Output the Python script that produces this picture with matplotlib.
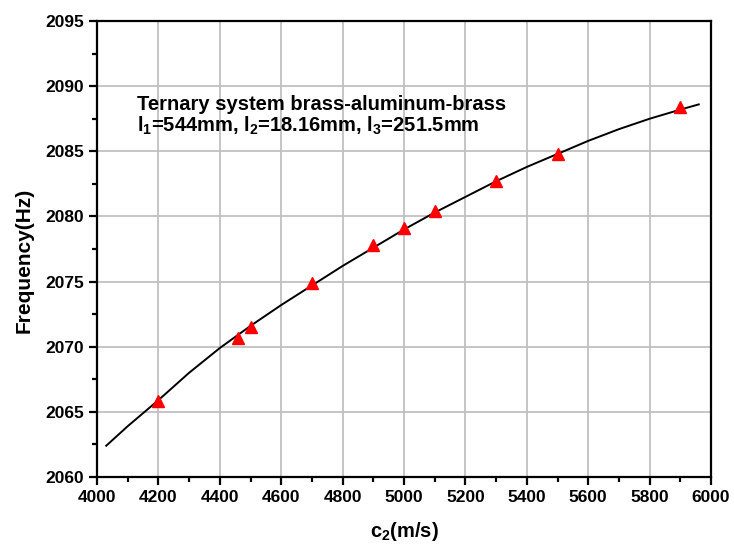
import matplotlib
matplotlib.use('Agg')
import matplotlib.pyplot as plt
from matplotlib.ticker import MultipleLocator

plt.rcParams['font.family'] = ['Liberation Sans', 'DejaVu Sans']
plt.rcParams['mathtext.default'] = 'regular'

# measured points (triangles)
c2_pts = [4200, 4460, 4500, 4700, 4900, 5000, 5100, 5300, 5500, 5900]
freq_pts = [2065.8, 2070.7, 2071.5, 2074.9, 2077.8, 2079.1, 2080.4, 2082.7, 2084.8, 2088.4]

# fitted curve
c2_curve = [4030, 4100, 4200, 4300, 4400, 4500, 4600, 4700, 4800, 4900, 5000,
            5100, 5200, 5300, 5400, 5500, 5600, 5700, 5800, 5900, 5960]
freq_curve = [2062.4, 2063.9, 2065.9, 2068.0, 2069.9, 2071.6, 2073.2, 2074.7,
              2076.2, 2077.6, 2079.0, 2080.3, 2081.5, 2082.7, 2083.8, 2084.8,
              2085.8, 2086.7, 2087.5, 2088.2, 2088.6]

fig = plt.figure(figsize=(7.34, 5.46), dpi=100)
ax = fig.add_axes([0.1322, 0.1264, 0.8365, 0.8351])

ax.plot(c2_curve, freq_curve, color='black', lw=1.4, zorder=3)
ax.plot(c2_pts, freq_pts, linestyle='none', marker='^', markersize=8.5,
        color='red', markeredgecolor='red', zorder=4)

ax.set_xlim(4000, 6000)
ax.set_ylim(2060, 2095)
ax.xaxis.set_major_locator(MultipleLocator(200))
ax.xaxis.set_minor_locator(MultipleLocator(100))
ax.yaxis.set_major_locator(MultipleLocator(5))
ax.yaxis.set_minor_locator(MultipleLocator(2.5))
ax.grid(True, which='major', color='#c0c0c0', lw=1.3)
ax.set_axisbelow(True)

for s in ax.spines.values():
    s.set_linewidth(1.6)
ax.tick_params(which='major', direction='out', length=6, width=1.6,
               labelsize=12.5)
ax.tick_params(which='minor', direction='out', length=3.5, width=1.6)
for lab in ax.get_xticklabels() + ax.get_yticklabels():
    lab.set_fontweight('bold')

ax.set_xlabel('c$_2$(m/s)', fontsize=14.5, fontweight='bold', labelpad=11)
ax.set_ylabel('Frequency(Hz)', fontsize=15, fontweight='bold')
ax.yaxis.set_label_coords(-0.104, 0.474)

ax.text(4130, 2088.15, 'Ternary system brass-aluminum-brass', fontsize=14.5,
        fontweight='bold', va='baseline', ha='left')
ax.text(4130, 2086.5, 'l$_1$=544mm, l$_2$=18.16mm, l$_3$=251.5mm', fontsize=14.5,
        fontweight='bold', va='baseline', ha='left')

fig.savefig('out.png', dpi=100)
